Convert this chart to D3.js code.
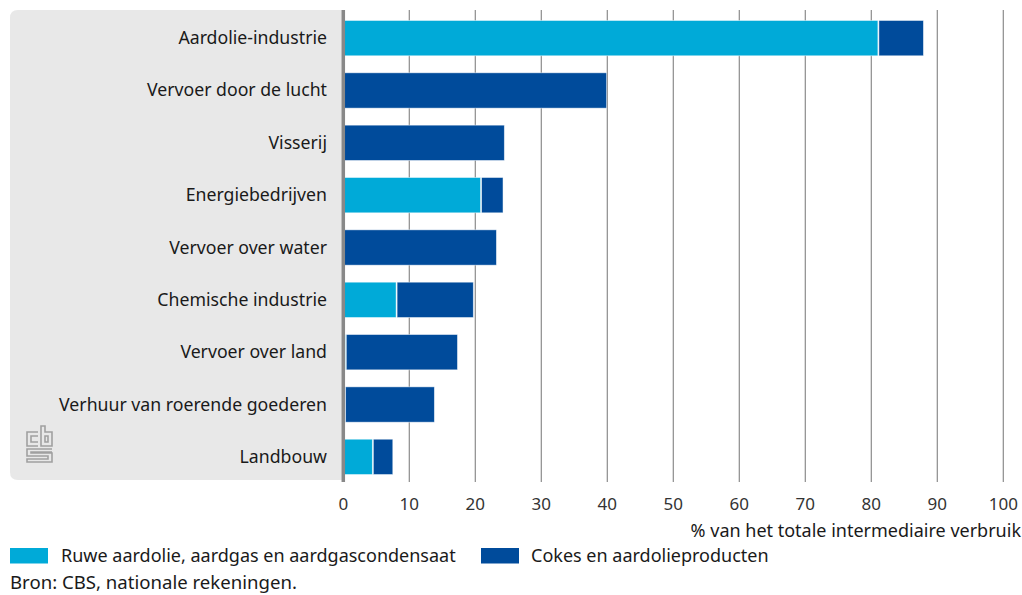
<!DOCTYPE html>
<html>
<head>
<meta charset="utf-8">
<script src="https://cdn.jsdelivr.net/npm/d3@7"></script>
<style>
  body { margin: 0; background: #fff; }
  text { font-family: "Noto Sans", "Open Sans", sans-serif; fill: #1a1a1a; }
</style>
</head>
<body>
<div id="chart"></div>
<script>
  // categorieen en waarden (% van het totale intermediaire verbruik)
  var categories = ['Aardolie-industrie', 'Vervoer door de lucht', 'Visserij', 'Energiebedrijven',
    'Vervoer over water', 'Chemische industrie', 'Vervoer over land',
    'Verhuur van roerende goederen', 'Landbouw'];
  var ruwe = [81.0, 0, 0, 20.8, 0, 8.0, 0.3, 0.2, 4.4];
  var cokes = [6.9, 39.9, 24.4, 3.4, 23.2, 11.7, 17.0, 13.6, 3.1];
  var seriesNames = ['Ruwe aardolie, aardgas en aardgascondensaat', 'Cokes en aardolieproducten'];
  var colors = ['#00aad8', '#004b9b'];
  var xTicks = [0, 10, 20, 30, 40, 50, 60, 70, 80, 90, 100];

  var width = 1022, height = 595;

  var svg = d3.select('#chart')
    .append('svg')
    .attr('width', width)
    .attr('height', height);

  var xScale = d3.scaleLinear()
    .domain([0, 100])
    .range([343.3, 1003.3]);

  var yScale = d3.scaleBand()
    .domain(categories)
    .range([10, 485])
    .paddingInner(0.325)
    .paddingOuter(0.2);

  // grijs vlak achter de labels
  svg.append('path')
    .attr('d', 'M343,10 H18 Q10,10 10,18 V472 Q10,480 18,480 H343 Z')
    .attr('fill', '#e8e8e8');

  // gridlijnen
  svg.selectAll('.grid')
    .data(xTicks.slice(1))
    .enter().append('line')
    .attr('class', 'grid')
    .attr('x1', function(d){ return xScale(d); })
    .attr('x2', function(d){ return xScale(d); })
    .attr('y1', 10)
    .attr('y2', 482)
    .attr('stroke', '#8c8c8c')
    .attr('stroke-width', 1.2);

  // gestapelde data
  var rows = categories.map(function(c, i){ return {cat: c, ruwe: ruwe[i], cokes: cokes[i]}; });
  var stack = d3.stack().keys(['ruwe', 'cokes'])(rows);

  var groups = svg.selectAll('.serie')
    .data(stack)
    .enter().append('g')
    .attr('class', 'serie')
    .attr('fill', function(d, i){ return colors[i]; });

  groups.selectAll('rect')
    .data(function(d){ return d.filter(function(p){ return p[1] - p[0] > 0; }); })
    .enter().append('rect')
    .attr('x', function(d){ return xScale(d[0]) + 1; })
    .attr('y', function(d){ return yScale(d.data.cat); })
    .attr('width', function(d){ return Math.max(xScale(d[1]) - xScale(d[0]) - 1, 0.8); })
    .attr('height', yScale.bandwidth())
    .attr('stroke', '#ffffff')
    .attr('stroke-opacity', 0.6)
    .attr('stroke-width', 0.8);

  // y-as lijn
  svg.append('line')
    .attr('x1', 343.3).attr('x2', 343.3)
    .attr('y1', 10).attr('y2', 482)
    .attr('stroke', '#888')
    .attr('stroke-width', 3.5);

  // categorie labels
  svg.selectAll('.cat')
    .data(categories)
    .enter().append('text')
    .attr('class', 'cat')
    .attr('x', 327)
    .attr('y', function(d){ return yScale(d) + yScale.bandwidth() / 2 + 6; })
    .attr('text-anchor', 'end')
    .style('font-size', '17.7px')
    .text(function(d){ return d; });

  // x-as labels
  svg.selectAll('.tick')
    .data(xTicks)
    .enter().append('text')
    .attr('class', 'tick')
    .attr('x', function(d){ return xScale(d); })
    .attr('y', 510)
    .attr('text-anchor', 'middle')
    .style('font-size', '17px')
    .style('fill', '#333')
    .text(function(d){ return d; });

  // as titel
  svg.append('text')
    .attr('x', 1021)
    .attr('y', 537)
    .attr('text-anchor', 'end')
    .style('font-size', '18px')
    .text('% van het totale intermediaire verbruik');

  // legenda
  var legendX = [10, 481];
  var legend = svg.selectAll('.legend')
    .data(seriesNames)
    .enter().append('g')
    .attr('class', 'legend')
    .attr('transform', function(d, i){ return 'translate(' + legendX[i] + ',548)'; });

  legend.append('rect')
    .attr('width', 38)
    .attr('height', 15.5)
    .attr('fill', function(d, i){ return colors[i]; });

  legend.append('text')
    .attr('x', function(d, i){ return i === 0 ? 51 : 50; })
    .attr('y', 14)
    .style('font-size', '18px')
    .text(function(d){ return d; });

  // bron
  svg.append('text')
    .attr('x', 10)
    .attr('y', 589)
    .style('font-size', '18.6px')
    .text('Bron: CBS, nationale rekeningen.');

  // cbs logo
  var logo = svg.append('g')
    .attr('fill', 'none')
    .attr('stroke', '#a0a0a0')
    .attr('stroke-width', 1.6);
  logo.append('path').attr('d', 'M38,432 H27 V446 H38 M38,436 H31 V442 H38');
  logo.append('path').attr('d', 'M41,426 V446 H52 V432 H45 V426 Z M45,436 H48 V442 H45 Z');
  logo.append('path').attr('d', 'M52,449 H27 V456 H48 V459 H27 V462 H52 V453 H31 V452 H52');
</script>
</body>
</html>
